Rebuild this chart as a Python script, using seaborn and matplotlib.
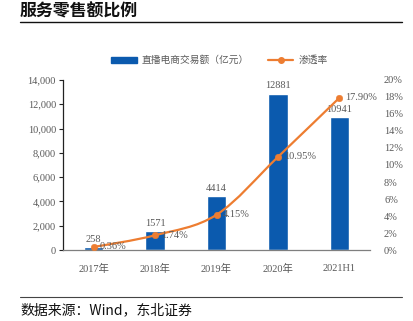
import matplotlib
matplotlib.use("Agg")
import matplotlib.pyplot as plt
import seaborn as sns
import pandas as pd
import numpy as np
from matplotlib.path import Path
from matplotlib.patches import PathPatch, Patch
from matplotlib.lines import Line2D
from matplotlib.ticker import FuncFormatter, MultipleLocator

categories = ["2017年", "2018年", "2019年", "2020年", "2021H1"]
gmv = [258, 1571, 4414, 12881, 10941]
rate = [0.36, 1.74, 4.15, 10.95, 17.90]
rate_labels = ["0.36%", "1.74%", "4.15%", "10.95%", "17.90%"]
bar_name = "直播电商交易额（亿元）"
line_name = "渗透率"
title = "服务零售额比例"
source = "数据来源：Wind，东北证券"

sns.set_theme(style="white")
plt.rcParams['font.family'] = ['Liberation Serif', 'Noto Sans CJK SC']
plt.rcParams['axes.unicode_minus'] = False

BLUE = "#0B5AAE"
ORANGE = "#ED7D31"
GREY = "#595959"

df = pd.DataFrame({"cat": categories, "gmv": gmv, "rate": rate})

fig = plt.figure(figsize=(4.14, 3.21), dpi=100)
ax = fig.add_axes([0.152, 0.221, 0.742, 0.530])
sns.barplot(data=df, x="cat", y="gmv", color=BLUE, width=0.32, ax=ax, saturation=1)
ax.set_xlim(-0.5, 4.5)
ax.set_ylim(0, 14000)
ax.yaxis.set_major_locator(MultipleLocator(2000))
ax.yaxis.set_major_formatter(FuncFormatter(lambda v, p: f"{int(v):,}"))
ax.set_xlabel("")
ax.set_ylabel("")
for s in ["top", "right"]:
    ax.spines[s].set_visible(False)
ax.spines["left"].set_color("#222222")
ax.spines["left"].set_linewidth(0.9)
ax.spines["bottom"].set_color("#7f7f7f")
ax.spines["bottom"].set_linewidth(0.9)
ax.tick_params(axis="y", which="major", left=True, length=3, width=0.8, color="#222222",
               labelsize=7.5, labelcolor=GREY, pad=2)
ax.tick_params(axis="x", bottom=False, labelsize=7.5, labelcolor=GREY, pad=4)

for i, v in enumerate(gmv):
    ax.text(i, v + 250, str(v), ha="center", va="bottom", fontsize=7.5, color=GREY)

ax2 = ax.twinx()
ax2.set_ylim(0, 20)
ax2.yaxis.set_major_locator(MultipleLocator(2))
ax2.yaxis.set_major_formatter(FuncFormatter(lambda v, p: f"{int(v)}%"))
for s in ["top", "right", "left", "bottom"]:
    ax2.spines[s].set_visible(False)
ax2.tick_params(axis="y", right=False, labelsize=7.5, labelcolor=GREY, pad=4)
ax2.grid(False)
ax.grid(False)

# smooth (Excel-like) curve via Bezier segments built from the data points
xs = np.arange(len(rate), dtype=float)
ys = np.array(rate, dtype=float)
verts = [(xs[0], ys[0])]
codes = [Path.MOVETO]
n = len(xs)
for i in range(n - 1):
    p0 = (xs[max(i - 1, 0)], ys[max(i - 1, 0)])
    p1 = (xs[i], ys[i])
    p2 = (xs[i + 1], ys[i + 1])
    p3 = (xs[min(i + 2, n - 1)], ys[min(i + 2, n - 1)])
    c1 = (p1[0] + (p2[0] - p0[0]) / 6, p1[1] + (p2[1] - p0[1]) / 6)
    c2 = (p2[0] - (p3[0] - p1[0]) / 6, p2[1] - (p3[1] - p1[1]) / 6)
    verts += [c1, c2, p2]
    codes += [Path.CURVE4] * 3
ax2.add_patch(PathPatch(Path(verts, codes), facecolor="none", edgecolor=ORANGE, lw=1.6, zorder=3))
sns.scatterplot(x=xs, y=ys, ax=ax2, color=ORANGE, s=22, edgecolor=ORANGE, zorder=4, legend=False)

for i, (v, lab) in enumerate(zip(rate, rate_labels)):
    ax2.text(i + 0.1, v, lab, ha="left", va="center", fontsize=7.5, color=GREY)

handles = [Patch(facecolor=BLUE, edgecolor=BLUE),
           Line2D([0], [0], color=ORANGE, lw=1.6, marker="o", markersize=4)]
fig.legend(handles, [bar_name, line_name], loc="center", bbox_to_anchor=(0.53, 0.813),
           ncol=2, frameon=False, handlelength=2.6, handleheight=0.6,
           columnspacing=2.0, handletextpad=0.5, labelcolor=GREY,
           prop={"family": ["Noto Sans CJK SC"], "size": 7})

fig.text(20 / 414, 1 - 12 / 321, title, ha="left", va="center", fontsize=12.2, fontweight="bold",
         family=["Noto Sans CJK SC"], color="#111111")
fig.add_artist(Line2D([20 / 414, 402 / 414], [1 - 22 / 321, 1 - 22 / 321], color="#111111", lw=1.0))
fig.add_artist(Line2D([20 / 414, 402 / 414], [1 - 297 / 321, 1 - 297 / 321], color="#444444", lw=0.8))
fig.text(20 / 414, 1 - 310 / 321, source, ha="left", va="center", fontsize=10,
         family=["Noto Sans CJK SC", "Liberation Serif"], color="#111111")

fig.savefig("out.png", dpi=100, facecolor="white")
